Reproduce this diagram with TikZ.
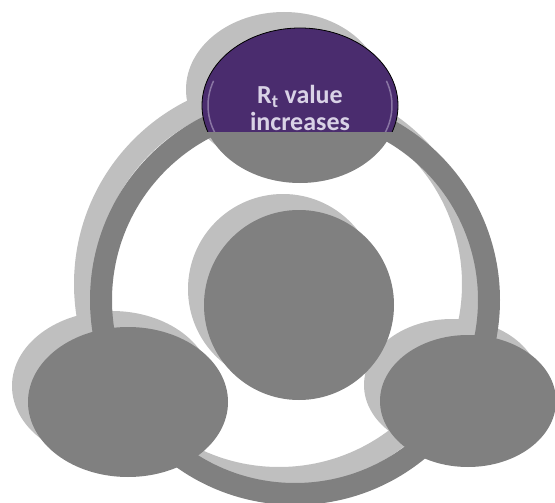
\documentclass[tikz,border=0pt]{standalone}
\usepackage{fontspec}
\setmainfont{Carlito}
\usepackage{xcolor}
\usetikzlibrary{shapes.geometric}
\definecolor{ringgray}{HTML}{808080}
\definecolor{shadegray}{HTML}{BFBFBF}
\definecolor{plum}{HTML}{4A2C6E}
\definecolor{lilac}{HTML}{D9D2E6}

\begin{document}
\begin{tikzpicture}[x=1pt, y=-1pt, every node/.style={align=center, inner sep=0pt},
blob/.style={ellipse, fill=ringgray},
shade/.style={ellipse, fill=shadegray},
hubdisc/.style={circle, minimum size=190pt},
rise/.style={ellipse, fill=plum, draw=black, line width=.8pt, minimum width=196pt, minimum height=155pt},
risetext/.style={text=lilac, font=\fontsize{26}{27}\selectfont\bfseries}]
\useasboundingbox (0,0) rectangle (555,503);
% shadows, shifted up and to the left
\begin{scope}[shift={(-16,-16)}]
\path[fill=shadegray, even odd rule] (295,300) circle[radius=205] circle[radius=183];
\node[shade, minimum width=196pt, minimum height=155pt] (rise-sh) at (300,105.5) {};
\node[shade, minimum width=200pt, minimum height=150pt] (west-sh) at (128,402) {};
\node[shade, minimum width=176pt, minimum height=132pt] (east-sh) at (468,401) {};
\node[shade, hubdisc] (hub-sh) at (299,305) {};
\end{scope}
% ring and gray discs
\path[fill=ringgray, even odd rule] (295,300) circle[radius=205] circle[radius=183];
\node[blob, minimum width=196pt, minimum height=155pt] (rise-base) at (300,105.5) {};
\node[blob, minimum width=200pt, minimum height=150pt] (west) at (128,402) {};
\node[blob, minimum width=176pt, minimum height=132pt] (east) at (468,401) {};
\node[blob, hubdisc] (hub) at (299,305) {};
% purple cap, only its upper part shows
\begin{scope}
\clip (0,0) rectangle (555,132);
\node[rise] (rise) at (300,105.5) {};
\draw[lilac, opacity=.45, line width=1.5pt] (rise.center) ++(150:92 and 72) arc[start angle=150, end angle=200, x radius=92, y radius=72];
\draw[lilac, opacity=.45, line width=1.5pt] (rise.center) ++(-20:92 and 72) arc[start angle=-20, end angle=30, x radius=92, y radius=72];
\node[risetext] (rise-text) at (300,108) {R\textsubscript{t} value\\increases};
\end{scope}
\end{tikzpicture}
\end{document}
